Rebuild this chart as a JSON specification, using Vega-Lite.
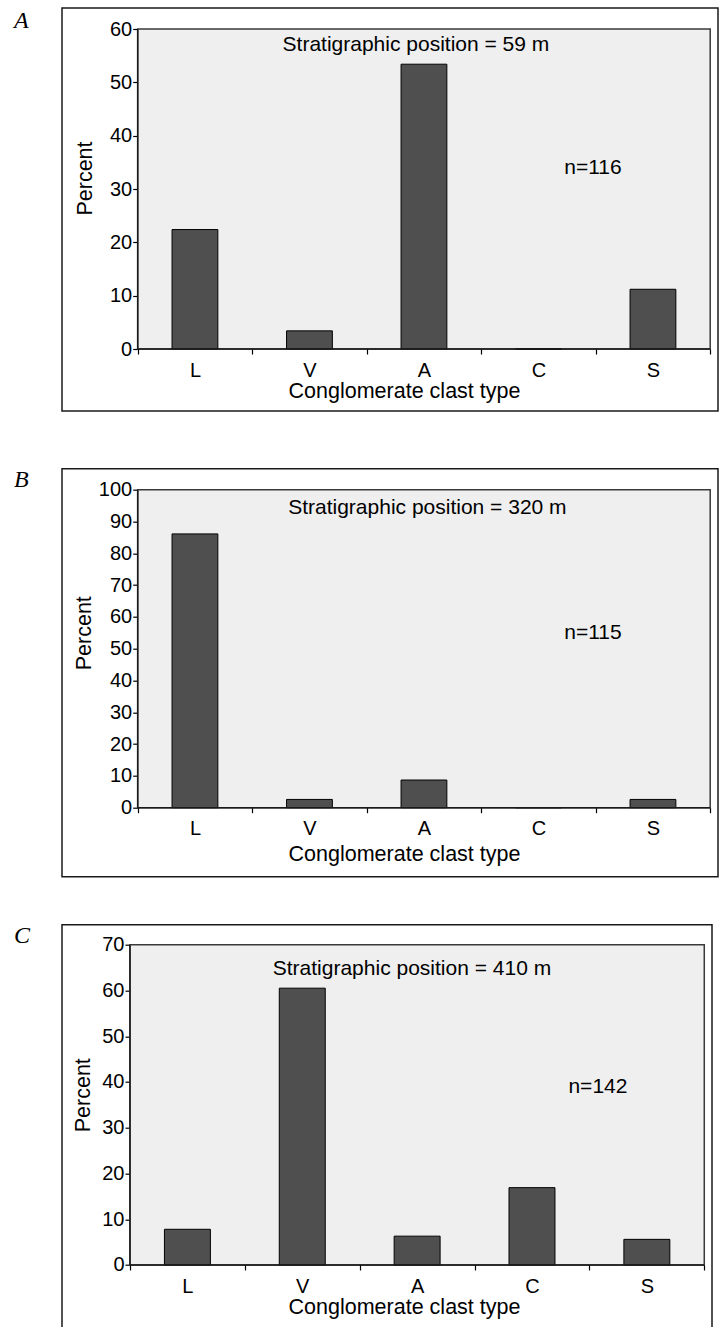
{
  "$schema": "https://vega.github.io/schema/vega-lite/v6.json",
  "padding": {"left": 13, "top": 7, "right": 2, "bottom": 0},
  "background": "white",
  "config": {
    "view": {"stroke": "#1a1a1a", "strokeWidth": 1.5, "fill": "white"},
    "axis": {"domain": false, "grid": false, "tickColor": "#000", "tickSize": 5, "tickWidth": 1.2, "labelFont": "Liberation Sans", "labelFontSize": 20, "labelColor": "#000", "titleFont": "Liberation Sans", "titleFontSize": 21.5, "titleFontWeight": "normal", "titleColor": "#000", "labelOverlap": false},
    "axisY": {"labelPadding": 1, "titleAngle": -90, "titleBaseline": "middle"},
    "axisX": {"labelAngle": 0, "labelBaseline": "middle", "labelPadding": 16, "titleBaseline": "middle", "tickBand": "extent", "titleX": 342},
    "title": {"font": "Liberation Serif", "fontStyle": "italic", "fontWeight": "normal", "fontSize": 24, "anchor": "start", "frame": "group", "offset": 0, "baseline": "alphabetic", "color": "#000", "dx": -48},
    "text": {"font": "Liberation Sans", "fontSize": 21, "color": "#000", "align": "center", "baseline": "middle"}
  },
  "vconcat": [
    {
      "spacing": 54.7,
      "vconcat": [
        {
          "width": 656, "height": 403,
          "title": {"text": "A", "dy": 29.3},
          "layer": [
            {"data": {"values": [{"region": "plot"}]}, "mark": {"type": "rect", "fill": "#efefef", "stroke": "#3a3a3a", "strokeWidth": 1.5},
             "encoding": {"x": {"datum": "L", "type": "nominal", "bandPosition": 0}, "x2": {"datum": "S", "bandPosition": 1}, "y": {"datum": 0, "type": "quantitative"}, "y2": {"datum": 60}}},
            {"data": {"values": [{"type": "L", "pct": 22.4}, {"type": "V", "pct": 3.4}, {"type": "A", "pct": 53.4}, {"type": "C", "pct": 0}, {"type": "S", "pct": 11.2}]},
             "mark": {"type": "bar", "width": {"band": 0.4}, "fill": "#4f4f4f", "stroke": "#000", "strokeWidth": 1},
             "encoding": {
               "x": {"field": "type", "type": "nominal", "title": "Conglomerate clast type", "scale": {"type": "band", "domain": ["L", "V", "A", "C", "S"], "paddingInner": 0, "paddingOuter": 0.3646, "align": 0.9066}, "axis": {"offset": -62, "titleY": 42}},
               "y": {"field": "pct", "type": "quantitative", "title": "Percent", "scale": {"domain": [-11.625, 63.9375], "nice": false, "zero": false}, "axis": {"offset": -75.7, "values": [0, 10, 20, 30, 40, 50, 60], "titleX": -52, "titleY": 170}},
               "y2": {"datum": 0}
             }},
            {"data": {"values": [{"region": "plot"}]}, "mark": {"type": "rule", "color": "#1a1a1a", "strokeWidth": 1.5},
             "encoding": {"x": {"datum": "L", "type": "nominal", "bandPosition": 0}, "y": {"datum": 0, "type": "quantitative"}, "y2": {"datum": 60}}},
            {"data": {"values": [{"region": "plot"}]}, "mark": {"type": "rule", "color": "#1a1a1a", "strokeWidth": 1.5},
             "encoding": {"x": {"datum": "L", "type": "nominal", "bandPosition": 0}, "x2": {"datum": "S", "bandPosition": 1}, "y": {"datum": 0, "type": "quantitative"}}},
            {"data": {"values": [{"label": "Stratigraphic position = 59 m"}]}, "mark": {"type": "text"},
             "encoding": {"x": {"datum": "A", "type": "nominal", "bandPosition": 0.43}, "y": {"datum": 57, "type": "quantitative"}, "text": {"field": "label"}}},
            {"data": {"values": [{"label": "n=116"}]}, "mark": {"type": "text"},
             "encoding": {"x": {"datum": "C", "type": "nominal", "bandPosition": 0.976}, "y": {"datum": 33.9, "type": "quantitative"}, "text": {"field": "label"}}}
          ]
        },
        {
          "width": 656, "height": 408,
          "title": {"text": "B", "dy": 27},
          "layer": [
            {"data": {"values": [{"region": "plot"}]}, "mark": {"type": "rect", "fill": "#efefef", "stroke": "#3a3a3a", "strokeWidth": 1.5},
             "encoding": {"x": {"datum": "L", "type": "nominal", "bandPosition": 0}, "x2": {"datum": "S", "bandPosition": 1}, "y": {"datum": 0, "type": "quantitative"}, "y2": {"datum": 100}}},
            {"data": {"values": [{"type": "L", "pct": 86.1}, {"type": "V", "pct": 2.6}, {"type": "A", "pct": 8.7}, {"type": "C", "pct": 0}, {"type": "S", "pct": 2.6}]},
             "mark": {"type": "bar", "width": {"band": 0.4}, "fill": "#4f4f4f", "stroke": "#000", "strokeWidth": 1},
             "encoding": {
               "x": {"field": "type", "type": "nominal", "title": "Conglomerate clast type", "scale": {"type": "band", "domain": ["L", "V", "A", "C", "S"], "paddingInner": 0, "paddingOuter": 0.3646, "align": 0.9066}, "axis": {"offset": -69, "titleY": 47}},
               "y": {"field": "pct", "type": "quantitative", "title": "Percent", "scale": {"domain": [-21.7, 106.6], "nice": false, "zero": false}, "axis": {"offset": -75.7, "values": [0, 10, 20, 30, 40, 50, 60, 70, 80, 90, 100], "titleX": -53.7, "titleY": 164}},
               "y2": {"datum": 0}
             }},
            {"data": {"values": [{"region": "plot"}]}, "mark": {"type": "rule", "color": "#1a1a1a", "strokeWidth": 1.5},
             "encoding": {"x": {"datum": "L", "type": "nominal", "bandPosition": 0}, "y": {"datum": 0, "type": "quantitative"}, "y2": {"datum": 100}}},
            {"data": {"values": [{"region": "plot"}]}, "mark": {"type": "rule", "color": "#1a1a1a", "strokeWidth": 1.5},
             "encoding": {"x": {"datum": "L", "type": "nominal", "bandPosition": 0}, "x2": {"datum": "S", "bandPosition": 1}, "y": {"datum": 0, "type": "quantitative"}}},
            {"data": {"values": [{"label": "Stratigraphic position = 320 m"}]}, "mark": {"type": "text"},
             "encoding": {"x": {"datum": "A", "type": "nominal", "bandPosition": 0.53}, "y": {"datum": 94.3, "type": "quantitative"}, "text": {"field": "label"}}},
            {"data": {"values": [{"label": "n=115"}]}, "mark": {"type": "text"},
             "encoding": {"x": {"datum": "C", "type": "nominal", "bandPosition": 0.976}, "y": {"datum": 55, "type": "quantitative"}, "text": {"field": "label"}}}
          ]
        }
      ]
    },
    {
      "width": 650, "height": 404,
      "title": {"text": "C", "dy": 27},
      "layer": [
        {"data": {"values": [{"region": "plot"}]}, "mark": {"type": "rect", "fill": "#efefef", "stroke": "#3a3a3a", "strokeWidth": 1.5},
         "encoding": {"x": {"datum": "L", "type": "nominal", "bandPosition": 0}, "x2": {"datum": "S", "bandPosition": 1}, "y": {"datum": 0, "type": "quantitative"}, "y2": {"datum": 70}}},
        {"data": {"values": [{"type": "L", "pct": 7.8}, {"type": "V", "pct": 60.5}, {"type": "A", "pct": 6.3}, {"type": "C", "pct": 16.9}, {"type": "S", "pct": 5.6}]},
         "mark": {"type": "bar", "width": {"band": 0.4}, "fill": "#4f4f4f", "stroke": "#000", "strokeWidth": 1},
         "encoding": {
           "x": {"field": "type", "type": "nominal", "title": "Conglomerate clast type", "scale": {"type": "band", "domain": ["L", "V", "A", "C", "S"], "paddingInner": 0, "paddingOuter": 0.3295, "align": 0.898}, "axis": {"offset": -63.7, "titleY": 42}},
           "y": {"field": "pct", "type": "quantitative", "title": "Percent", "scale": {"domain": [-13.93, 74.375], "nice": false, "zero": false}, "axis": {"offset": -68, "values": [0, 10, 20, 30, 40, 50, 60, 70], "titleX": -47, "titleY": 170}},
           "y2": {"datum": 0}
         }},
        {"data": {"values": [{"region": "plot"}]}, "mark": {"type": "rule", "color": "#1a1a1a", "strokeWidth": 1.5},
         "encoding": {"x": {"datum": "L", "type": "nominal", "bandPosition": 0}, "y": {"datum": 0, "type": "quantitative"}, "y2": {"datum": 70}}},
        {"data": {"values": [{"region": "plot"}]}, "mark": {"type": "rule", "color": "#1a1a1a", "strokeWidth": 1.5},
         "encoding": {"x": {"datum": "L", "type": "nominal", "bandPosition": 0}, "x2": {"datum": "S", "bandPosition": 1}, "y": {"datum": 0, "type": "quantitative"}}},
        {"data": {"values": [{"label": "Stratigraphic position = 410 m"}]}, "mark": {"type": "text"},
         "encoding": {"x": {"datum": "A", "type": "nominal", "bandPosition": 0.455}, "y": {"datum": 64.8, "type": "quantitative"}, "text": {"field": "label"}}},
        {"data": {"values": [{"label": "n=142"}]}, "mark": {"type": "text"},
         "encoding": {"x": {"datum": "S", "type": "nominal", "bandPosition": 0.074}, "y": {"datum": 38.8, "type": "quantitative"}, "text": {"field": "label"}}}
      ]
    }
  ],
  "spacing": 44.7
}
